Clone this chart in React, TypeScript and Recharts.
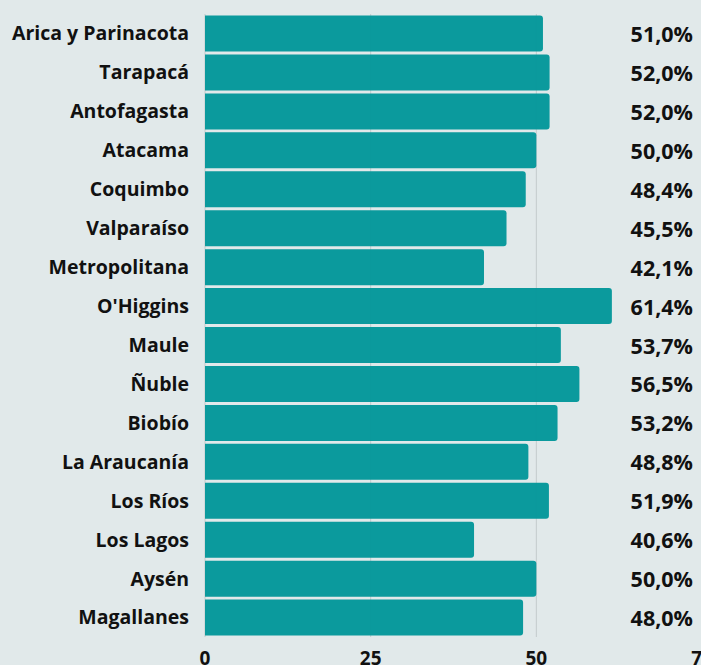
import React from "react";
import { BarChart, Bar, XAxis, YAxis, CartesianGrid, LabelList } from "recharts";

const regions = [
  "Arica y Parinacota",
  "Tarapacá",
  "Antofagasta",
  "Atacama",
  "Coquimbo",
  "Valparaíso",
  "Metropolitana",
  "O'Higgins",
  "Maule",
  "Ñuble",
  "Biobío",
  "La Araucanía",
  "Los Ríos",
  "Los Lagos",
  "Aysén",
  "Magallanes",
];
const values = [51.0, 52.0, 52.0, 50.0, 48.4, 45.5, 42.1, 61.4, 53.7, 56.5, 53.2, 48.8, 51.9, 40.6, 50.0, 48.0];
const xTicks = [0, 25, 50, 75];

const data = regions.map((r, i) => ({ region: r, value: values[i] }));

const FONT = "'Open Sans', 'Noto Sans', sans-serif";

const ValueLabel = (props: any) => {
  const { y, height, value } = props;
  const cy = y + height / 2;
  return (
    <text
      x={693}
      y={cy}
      textAnchor="end"
      dominantBaseline="central"
      fontFamily={FONT}
      fontWeight={700}
      fontSize={21.5}
      fill="#111"
    >
      {value.toFixed(1).replace(".", ",") + "%"}
    </text>
  );
};

export default function App() {
  return (
    <div
      style={{
        position: "absolute",
        left: 0,
        top: 0,
        width: 701,
        height: 665,
        overflow: "hidden",
        background: "#e1e9ea",
      }}
    >
      <BarChart
        width={702}
        height={665}
        data={data}
        layout="vertical"
        margin={{ top: 14, right: 0, bottom: 0, left: 0 }}
        barCategoryGap="4%"
      >
        <CartesianGrid horizontal={false} vertical={true} stroke="#c3cbcc" strokeWidth={1} />
        <XAxis
          type="number"
          domain={[0, 75]}
          ticks={xTicks}
          axisLine={false}
          tickLine={false}
          tickSize={0}
          tickMargin={15}
          height={28}
          interval={0}
          tick={{ fontFamily: FONT, fontWeight: 700, fontSize: 19, fill: "#111" }}
        />
        <YAxis
          type="category"
          dataKey="region"
          width={205}
          axisLine={false}
          tickLine={false}
          tickSize={0}
          tickMargin={16}
          interval={0}
          tick={{ fontFamily: FONT, fontWeight: 700, fontSize: 19.5, fill: "#111" }}
        />
        <Bar
          dataKey="value"
          fill="#04979a"
          fillOpacity={0.97}
          radius={[0, 3, 3, 0]}
          isAnimationActive={false}
        >
          <LabelList dataKey="value" content={ValueLabel} />
        </Bar>
      </BarChart>
    </div>
  );
}
